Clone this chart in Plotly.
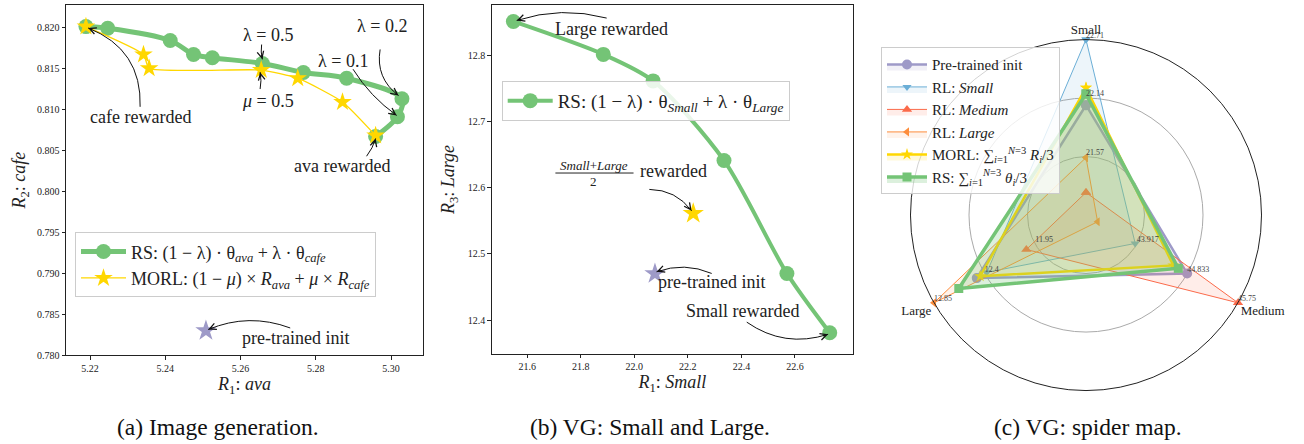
import plotly.graph_objects as go

W, H = 1304, 444
FONT = "Liberation Serif"

# ---------------- Panel (a): image generation ----------------
rs_a_ava = [5.2959, 5.3017, 5.3029, 5.2882, 5.2767, 5.2658, 5.2525, 5.2475, 5.2413, 5.2247, 5.2189]
rs_a_cafe = [0.8067, 0.8091, 0.8113, 0.8138, 0.8145, 0.8156, 0.8163, 0.8167, 0.8184, 0.8199, 0.8201]
morl_a_ava = [5.2959, 5.2871, 5.2752, 5.2655, 5.2357, 5.2342, 5.2189]
morl_a_cafe = [0.8068, 0.8109, 0.8138, 0.8148, 0.8150, 0.8167, 0.8201]
init_a_ava = [5.2508]
init_a_cafe = [0.7830]
a_xticks = [5.22, 5.24, 5.26, 5.28, 5.30]
a_yticks = [0.780, 0.785, 0.790, 0.795, 0.800, 0.805, 0.810, 0.815, 0.820]

# ---------------- Panel (b): VG Small and Large ----------------
rs_b_small = [22.73, 22.57, 22.335, 22.07, 21.884, 21.548]
rs_b_large = [12.381, 12.4705, 12.641, 12.761, 12.801, 12.8507]
morl_b_small = [22.22]
morl_b_large = [12.561]
init_b_small = [22.077]
init_b_large = [12.470]
b_xticks = [21.6, 21.8, 22.0, 22.2, 22.4, 22.6]
b_yticks = [12.4, 12.5, 12.6, 12.7, 12.8]

# ---------------- Panel (c): spider map ----------------
radar_axes = ["Small", "Medium", "Large"]
radar_min = [21.0, 43.0, 11.5]
radar_max = [22.71, 45.75, 12.85]
radar_ticks = [[21.57, 22.14, 22.71], [43.917, 44.833, 45.75], [11.95, 12.4, 12.85]]
radar_tick_text = [["21.57", "22.14", "22.71"], ["43.917", "44.833", "45.75"], ["11.95", "12.4", "12.85"]]
radar_names = ["Pre-trained init", "RL: <i>Small</i>", "RL: <i>Medium</i>", "RL: <i>Large</i>",
               "MORL: \u2211<sub><i>i</i>=1</sub><sup><i>N</i>=3</sup> <i>R<sub>i</sub></i>/3",
               "RS: \u2211<sub><i>i</i>=1</sub><sup><i>N</i>=3</sup> <i>\u03b8<sub>i</sub></i>/3"]
radar_values = [
    [22.07, 44.83, 12.47],
    [22.71, 43.89, 12.38],
    [21.22, 45.75, 12.03],
    [21.56, 43.21, 12.85],
    [22.24, 44.58, 12.44],
    [22.18, 44.67, 12.63],
]
radar_colors = ["#9e9ac8", "#6baed6", "#fb6a4a", "#fd8d3c", "#ffd700", "#74c476"]
radar_fills = ["rgba(158,154,200,0.15)", "rgba(107,174,214,0.12)", "rgba(251,106,74,0.12)",
               "rgba(253,141,60,0.10)", "rgba(255,215,0,0.15)", "rgba(116,196,118,0.25)"]
radar_symbols = ["circle", "triangle-down", "triangle-up", "triangle-left", "star", "square"]
radar_widths = [2.5, 1, 1, 1, 2.5, 3.5]
radar_msizes = [10, 8, 9, 8, 9, 9]

GREEN = "#74c476"
GOLD = "#ffd700"
PURPLE = "#9e9ac8"

# axis geometry (pixels)
AX = {
    "x": dict(dom=(66, 423), rng=(5.2136, 5.3085)),
    "y": dict(dom=(359.3, 5), rng=(0.780, 0.82274)),
    "x2": dict(dom=(491.7, 853), rng=(21.467, 22.817)),
    "y2": dict(dom=(358, 5), rng=(12.349, 12.8756)),
}

def to_px(v, a):
    d, r = AX[a]["dom"], AX[a]["rng"]
    return d[0] + (v - r[0]) / (r[1] - r[0]) * (d[1] - d[0])

def to_data(p, a):
    d, r = AX[a]["dom"], AX[a]["rng"]
    return r[0] + (p - d[0]) / (d[1] - d[0]) * (r[1] - r[0])

fig = go.Figure()

# panel a traces
fig.add_trace(go.Scatter(x=rs_a_ava, y=rs_a_cafe, mode="lines+markers",
                         line=dict(color=GREEN, width=5, shape="spline", smoothing=0.9),
                         marker=dict(color=GREEN, size=15, symbol="circle"),
                         name="RS: (1 \u2212 \u03bb) \u00b7 \u03b8<sub><i>ava</i></sub> + \u03bb \u00b7 \u03b8<sub><i>cafe</i></sub>",
                         xaxis="x", yaxis="y", legend="legend"))
fig.add_trace(go.Scatter(x=morl_a_ava, y=morl_a_cafe, mode="lines+markers",
                         line=dict(color=GOLD, width=1.3, shape="spline", smoothing=0.5),
                         marker=dict(color=GOLD, size=14, symbol="star"),
                         name="MORL: (1 \u2212 <i>\u03bc</i>) \u00d7 <i>R<sub>ava</sub></i> + <i>\u03bc</i> \u00d7 <i>R<sub>cafe</sub></i>",
                         xaxis="x", yaxis="y", legend="legend"))
fig.add_trace(go.Scatter(x=init_a_ava, y=init_a_cafe, mode="markers",
                         marker=dict(color=PURPLE, size=16, symbol="star"),
                         showlegend=False, xaxis="x", yaxis="y"))

# panel b traces
fig.add_trace(go.Scatter(x=rs_b_small, y=rs_b_large, mode="lines+markers",
                         line=dict(color=GREEN, width=4, shape="spline", smoothing=0.8),
                         marker=dict(color=GREEN, size=15, symbol="circle"),
                         name="RS: (1 \u2212 \u03bb) \u00b7 \u03b8<sub><i>Small</i></sub> + \u03bb \u00b7 \u03b8<sub><i>Large</i></sub>",
                         xaxis="x2", yaxis="y2", legend="legend2"))
fig.add_trace(go.Scatter(x=morl_b_small, y=morl_b_large, mode="markers",
                         marker=dict(color=GOLD, size=16, symbol="star"),
                         showlegend=False, xaxis="x2", yaxis="y2"))
fig.add_trace(go.Scatter(x=init_b_small, y=init_b_large, mode="markers",
                         marker=dict(color=PURPLE, size=16, symbol="star"),
                         showlegend=False, xaxis="x2", yaxis="y2"))

# panel c traces
def norm(vals):
    return [(v - lo) / (hi - lo) for v, lo, hi in zip(vals, radar_min, radar_max)]

for name, vals, col, fc, sym, lw, ms in zip(radar_names, radar_values, radar_colors, radar_fills,
                                            radar_symbols, radar_widths, radar_msizes):
    r = norm(vals)
    fig.add_trace(go.Scatterpolar(r=r + r[:1], theta=radar_axes + radar_axes[:1],
                                  mode="lines+markers", fill="toself", fillcolor=fc,
                                  line=dict(color=col, width=lw),
                                  marker=dict(color=col, size=ms, symbol=sym),
                                  name=name, subplot="polar", legend="legend3"))

for ax, lo, hi, tv, tt in zip(radar_axes, radar_min, radar_max, radar_ticks, radar_tick_text):
    fig.add_trace(go.Scatterpolar(r=[(v - lo) / (hi - lo) for v in tv], theta=[ax] * len(tv),
                                  mode="text", text=tt, textposition="top right",
                                  textfont=dict(family=FONT, size=8, color="#444"),
                                  showlegend=False, subplot="polar", hoverinfo="skip"))

axis_common = dict(showline=True, linecolor="#222", linewidth=1, mirror=True, ticks="outside",
                   ticklen=3.5, tickwidth=0.8, tickcolor="#222", showgrid=False, zeroline=False,
                   tickfont=dict(family=FONT, size=10, color="#222"))

def dom(a, horizontal):
    d = AX[a]["dom"]
    if horizontal:
        return [d[0] / W, d[1] / W]
    return [1 - d[0] / H, 1 - d[1] / H]

fig.update_layout(
    width=W, height=H, margin=dict(l=0, r=0, t=0, b=0),
    paper_bgcolor="white", plot_bgcolor="white",
    font=dict(family=FONT, color="#222"),
    xaxis=dict(domain=dom("x", True), range=list(AX["x"]["rng"]), tickvals=a_xticks,
               tickformat=".2f", anchor="y",
               title=dict(text="<i>R</i><sub>1</sub>: <i>ava</i>", font=dict(size=18), standoff=2),
               **axis_common),
    yaxis=dict(domain=dom("y", False), range=list(AX["y"]["rng"]), tickvals=a_yticks,
               tickformat=".3f", anchor="x",
               title=dict(text="<i>R</i><sub>2</sub>: <i>cafe</i>", font=dict(size=18), standoff=6),
               **axis_common),
    xaxis2=dict(domain=dom("x2", True), range=list(AX["x2"]["rng"]), tickvals=b_xticks,
                tickformat=".1f", anchor="y2",
                title=dict(text="<i>R</i><sub>1</sub>: <i>Small</i>", font=dict(size=18), standoff=2),
                **axis_common),
    yaxis2=dict(domain=dom("y2", False), range=list(AX["y2"]["rng"]), tickvals=b_yticks,
                tickformat=".1f", anchor="x2",
                title=dict(text="<i>R</i><sub>3</sub>: <i>Large</i>", font=dict(size=18), standoff=8),
                **axis_common),
    polar=dict(domain=dict(x=[908.5 / W, 1263.5 / W], y=[1 - 395 / H, 1 - 40 / H]),
               bgcolor="white",
               radialaxis=dict(range=[0, 1], tickvals=[1 / 3, 2 / 3, 1], showticklabels=False,
                               ticks="", showline=False, gridcolor="#aaaaaa", gridwidth=1),
               angularaxis=dict(rotation=90, direction="clockwise", showgrid=False,
                                showline=True, linecolor="#222", linewidth=1, ticks="",
                                tickfont=dict(family=FONT, size=13, color="#222"))),
    legend=dict(x=75 / W, y=1 - 235 / H, xanchor="left", yanchor="top",
                bgcolor="rgba(255,255,255,0.85)", bordercolor="#cccccc", borderwidth=1,
                font=dict(family=FONT, size=18, color="#222"), itemwidth=45,
                tracegroupgap=0),
    legend2=dict(x=501.7 / W, y=1 - 81.7 / H, xanchor="left", yanchor="top",
                 bgcolor="rgba(255,255,255,0.85)", bordercolor="#cccccc", borderwidth=1,
                 font=dict(family=FONT, size=19, color="#222"), itemwidth=45),
    legend3=dict(x=881 / W, y=1 - 47.7 / H, xanchor="left", yanchor="top",
                 bgcolor="rgba(255,255,255,0.8)", bordercolor="#cccccc", borderwidth=1,
                 font=dict(family=FONT, size=15, color="#222"), itemwidth=40),
)

ann = []
shapes = []

def label(text, x, y, xr, yr, size=18):
    ann.append(dict(text=text, x=x, y=y, xref=xr, yref=yr, showarrow=False,
                    font=dict(family=FONT, size=size, color="#222"),
                    xanchor="center", yanchor="middle"))

def arrow(xt, yt, xh, yh, xr, yr, rad=0.0):
    # curved connector (quadratic Bezier, arc3-like) drawn in pixel space, mapped to data
    tx, ty = to_px(xt, xr), to_px(yt, yr)
    hx, hy = to_px(xh, xr), to_px(yh, yr)
    dx, dy = hx - tx, hy - ty
    cx = (tx + hx) / 2 - rad * dy
    cy = (ty + hy) / 2 + rad * dx
    path = "M {:.6f},{:.6f} Q {:.6f},{:.6f} {:.6f},{:.6f}".format(
        xt, yt, to_data(cx, xr), to_data(cy, yr), xh, yh)
    shapes.append(dict(type="path", path=path, xref=xr, yref=yr,
                       line=dict(color="#111", width=1)))
    ux, uy = hx - cx, hy - cy
    n = (ux ** 2 + uy ** 2) ** 0.5 or 1.0
    L = 6.0
    ann.append(dict(text="", x=xh, y=yh, xref=xr, yref=yr, ax=-ux / n * L, ay=-uy / n * L,
                    showarrow=True, arrowhead=5, arrowsize=1.3, arrowwidth=1, arrowcolor="#111",
                    standoff=0, startstandoff=0))

# panel a annotations
label("\u03bb = 0.5", 5.2673, 0.8191, "x", "y")
arrow(5.2656, 0.81791, 5.2658, 0.8161, "x", "y", 0.1)
label("<i>\u03bc</i> = 0.5", 5.2673, 0.81107, "x", "y")
arrow(5.2652, 0.81248, 5.2652, 0.81454, "x", "y", 0.1)
label("\u03bb = 0.2", 5.2975, 0.82012, "x", "y")
arrow(5.2971, 0.81731, 5.3020, 0.81168, "x", "y", 0.3)
label("\u03bb = 0.1", 5.2873, 0.81590, "x", "y")
arrow(5.2899, 0.81490, 5.3015, 0.80926, "x", "y", 0.1)
label("cafe rewarded", 5.2333, 0.80907, "x", "y")
arrow(5.2333, 0.81031, 5.2195, 0.81993, "x", "y", 0.35)
label("ava rewarded", 5.2869, 0.80304, "x", "y")
arrow(5.2935, 0.80428, 5.2959, 0.80645, "x", "y", 0.1)
label("pre-trained init", 5.2747, 0.78212, "x", "y")
arrow(5.2732, 0.78333, 5.2514, 0.78314, "x", "y", 0.2)

# panel b annotations
label("Large rewarded", 21.915, 12.8394, "x2", "y2")
arrow(21.8966, 12.8558, 21.5604, 12.8522, "x2", "y2", 0.15)
label("<i>Small</i>+<i>Large</i>", 21.849, 12.634, "x2", "y2", size=13)
label("2", 21.849, 12.6095, "x2", "y2", size=13)
label("rewarded", 22.145, 12.6247, "x2", "y2")
arrow(22.056, 12.5973, 22.214, 12.565, "x2", "y2", -0.25)
label("pre-trained init", 22.289, 12.458, "x2", "y2")
arrow(22.289, 12.4705, 22.083, 12.473, "x2", "y2", 0.2)
label("Small rewarded", 22.405, 12.4145, "x2", "y2")
arrow(22.42, 12.397, 22.724, 12.3787, "x2", "y2", 0.25)

shapes.append(dict(type="line", x0=21.705, x1=21.997, y0=12.622, y1=12.622, xref="x2", yref="y2",
                   line=dict(color="#222", width=1)))

# captions
for txt, xc in [("(a) Image generation.", 218), ("(b) VG: Small and Large.", 650),
                ("(c) VG: spider map.", 1087.5)]:
    ann.append(dict(text=txt, x=xc / W, y=1 - 431.7 / H, xref="paper", yref="paper",
                    showarrow=False, font=dict(family=FONT, size=23.5, color="#111"),
                    xanchor="center", yanchor="middle"))

fig.update_layout(annotations=ann, shapes=shapes)

fig.write_html("out.html")
